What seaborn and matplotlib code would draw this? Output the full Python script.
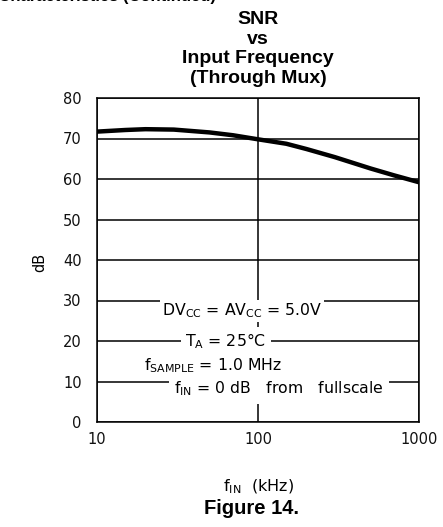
import matplotlib
matplotlib.use("Agg")
import matplotlib.pyplot as plt
import pandas as pd
import seaborn as sns

# values
freq_khz = [10, 15, 20, 30, 50, 70, 100, 150, 200, 300, 500, 700, 1000]
snr_db = [71.7, 72.1, 72.3, 72.2, 71.5, 70.8, 69.8, 68.7, 67.4, 65.4, 62.6, 60.9, 59.2]
y_ticks = [0, 10, 20, 30, 40, 50, 60, 70, 80]
x_ticks = [10, 100, 1000]
x_tick_labels = ["10", "100", "1000"]

df = pd.DataFrame({"f_in": freq_khz, "snr": snr_db})

sns.set_style("white")
plt.rcParams["font.family"] = ["DejaVu Sans"]
plt.rcParams["mathtext.fontset"] = "dejavusans"
plt.rcParams["text.color"] = "black"

W, H = 443, 527
BOLD = ["Liberation Sans", "DejaVu Sans"]
fig = plt.figure(figsize=(W / 100, H / 100), dpi=100)
ax = fig.add_axes([97 / W, 1 - 422 / H, 322 / W, 324 / H])

sns.lineplot(data=df, x="f_in", y="snr", ax=ax, color="black", linewidth=3.2, zorder=3)

ax.set_xscale("log")
ax.set_xlim(10, 1000)
ax.set_ylim(0, 80)
ax.set_yticks(y_ticks)
ax.set_xticks(x_ticks)
ax.set_xticklabels(x_tick_labels)
ax.minorticks_off()
ax.tick_params(axis="both", length=0, labelsize=10.5, colors="#111111")
ax.tick_params(axis="y", pad=11)
ax.tick_params(axis="x", pad=7)
ax.grid(True, which="major", color="black", linewidth=1.1)
for sp in ax.spines.values():
    sp.set_color("black")
    sp.set_linewidth(1.1)
ax.set_xlabel("")
ax.set_ylabel("")

# annotation block with white backgrounds over grid lines
px = lambda x, y: (x / W, 1 - y / H)
ann = dict(ha="center", va="center", fontsize=11.3, zorder=5)
fig.text(*px(242, 311), r"DV$_{\mathrm{CC}}$ = AV$_{\mathrm{CC}}$ = 5.0V",
         bbox=dict(facecolor="white", edgecolor="none", pad=1.0), **ann)
fig.text(*px(226, 341), r"T$_{\mathrm{A}}$ = 25$\degree$C",
         bbox=dict(facecolor="white", edgecolor="none", pad=3), **ann)
fig.text(*px(213, 366), r"f$_{\mathrm{SAMPLE}}$ = 1.0 MHz",
         bbox=dict(facecolor="white", edgecolor="none", pad=1.0), **ann)
fig.text(*px(279, 389), r"f$_{\mathrm{IN}}$ = 0 dB   from   fullscale",
         bbox=dict(facecolor="white", edgecolor="none", pad=4), **ann)

# titles and labels
fig.text(*px(258, 49), "SNR\nvs\nInput Frequency\n(Through Mux)", ha="center", va="center",
         fontsize=14, fontweight="bold", family=BOLD, linespacing=1.22)
fig.text(*px(216, 0.5), "Typical Performance Characteristics (Continued)", ha="right", va="baseline",
         fontsize=12, fontweight="bold", family=BOLD)
fig.text(*px(40, 262), "dB", ha="center", va="center", rotation=90, fontsize=10.5)
fig.text(*px(258, 487), r"f$_{\mathrm{IN}}$  (kHz)", ha="center", va="center", fontsize=11.5)
fig.text(*px(252, 509), "Figure 14.", ha="center", va="center", fontsize=14.5,
         fontweight="bold", family=BOLD)

fig.savefig("out.png", dpi=100)
